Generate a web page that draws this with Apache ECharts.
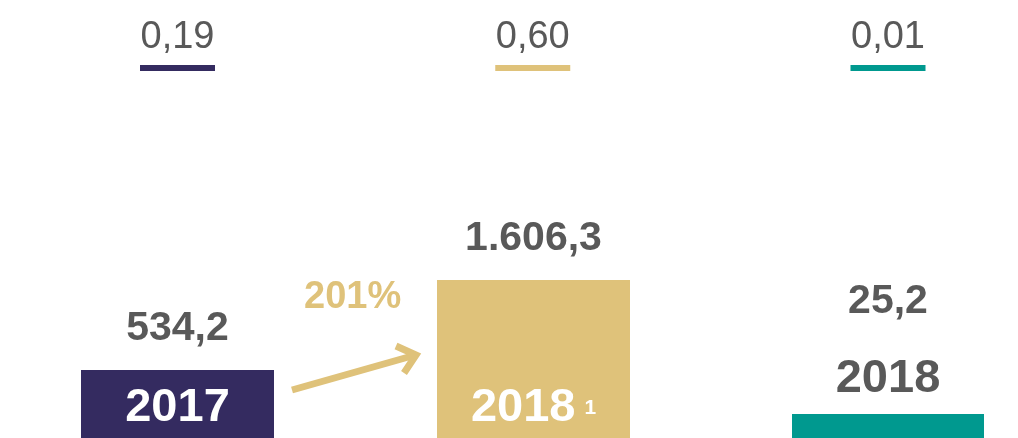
<!DOCTYPE html>
<html>
<head>
<meta charset="utf-8">
<script src="https://cdn.jsdelivr.net/npm/echarts@6/dist/echarts.min.js"></script>
<style>
  html, body { margin: 0; padding: 0; background: #fff; }
  #chart { width: 1018px; height: 438px; }
</style>
</head>
<body>
<div id="chart"></div>
<script>
  // data
  let years = ['2017', '2018', '2018']
  let notes = ['', '1', '']
  let values = [534.2, 1606.3, 25.2]
  let eps = [0.19, 0.60, 0.01]

  let colors = ['#342b60', '#dfc27a', '#00998f']
  let grey = '#595959'
  let font = 'Liberation Sans, Arial, sans-serif'

  // each bar sits on its own scale, as in the original slide
  let axisMax = [1571, 2033, 210]
  let gridLeft = [81, 437, 792]
  let gridWidth = [193, 193, 192]
  let labelGap = [21, 21, 92]
  let yearMargin = [6, 6, 35]
  let yearColor = ['#fff', '#fff', grey]

  // 1.606,3 style numbers
  function fmt (v, d) {
    let parts = v.toFixed(d).split('.')
    parts[0] = parts[0].replace(/\B(?=(\d{3})+(?!\d))/g, '.')
    return parts.join(',')
  }

  let myChart = echarts.init(document.getElementById('chart'))

  let grid = []
  let xAxis = []
  let yAxis = []
  let series = []

  values.forEach((val, i) => {
    grid.push({left: gridLeft[i], width: gridWidth[i], top: 238, height: 200})
    xAxis.push({
      type: 'category',
      gridIndex: i,
      data: [years[i]],
      axisLine: {show: false},
      axisTick: {show: false},
      axisLabel: {
        inside: true,
        margin: yearMargin[i],
        formatter: v => notes[i] ? '{y|' + v + '}{s|' + notes[i] + '}' : '{y|' + v + '}',
        rich: {
          y: {fontFamily: font, fontSize: 47, fontWeight: 'bold', color: yearColor[i]},
          s: {fontFamily: font, fontSize: 21, fontWeight: 'bold', color: yearColor[i], padding: [0, 0, 0, 9]}
        }
      },
      z: 10
    })
    yAxis.push({
      type: 'value',
      gridIndex: i,
      min: 0,
      max: axisMax[i],
      show: false,
      splitLine: {show: false}
    })
    series.push({
      type: 'bar',
      xAxisIndex: i,
      yAxisIndex: i,
      barWidth: '100%',
      data: [val],
      itemStyle: {color: colors[i]},
      label: {
        show: true,
        position: 'top',
        distance: labelGap[i],
        formatter: p => fmt(p.value, 1),
        fontFamily: font,
        fontSize: 41,
        fontWeight: 'bold',
        color: grey
      }
    })
  })

  // top row: small figures with a coloured bar under each
  grid.push({left: 177.5, width: 710.5, top: 0, height: 136})
  xAxis.push({type: 'value', gridIndex: 3, min: 0, max: 2, show: false})
  yAxis.push({type: 'category', gridIndex: 3, data: [''], show: false})
  series.push({
    type: 'scatter',
    xAxisIndex: 3,
    yAxisIndex: 3,
    symbol: 'rect',
    symbolSize: [75, 6],
    data: eps.map((v, i) => ({value: [i, 0, v], itemStyle: {color: colors[i], opacity: 1}})),
    label: {
      show: true,
      position: 'top',
      distance: 8,
      formatter: p => fmt(p.value[2], 2),
      fontFamily: font,
      fontSize: 38,
      color: grey
    }
  })

  let growth = Math.round((values[1] / values[0] - 1) * 100)
  let gold = colors[1]

  let option = {
    animation: false,
    grid: grid,
    xAxis: xAxis,
    yAxis: yAxis,
    series: series,
    graphic: [
      {
        type: 'text',
        left: 304,
        top: 279,
        style: {text: growth + '%', fill: gold, font: 'bold 38px ' + font}
      },
      {
        type: 'line',
        shape: {x1: 292, y1: 390, x2: 412, y2: 356},
        style: {stroke: gold, lineWidth: 7}
      },
      {
        type: 'polyline',
        shape: {points: [[396, 346], [416, 355], [404, 373]]},
        style: {stroke: gold, lineWidth: 7, fill: null}
      }
    ]
  }
  myChart.setOption(option)
</script>
</body>
</html>
